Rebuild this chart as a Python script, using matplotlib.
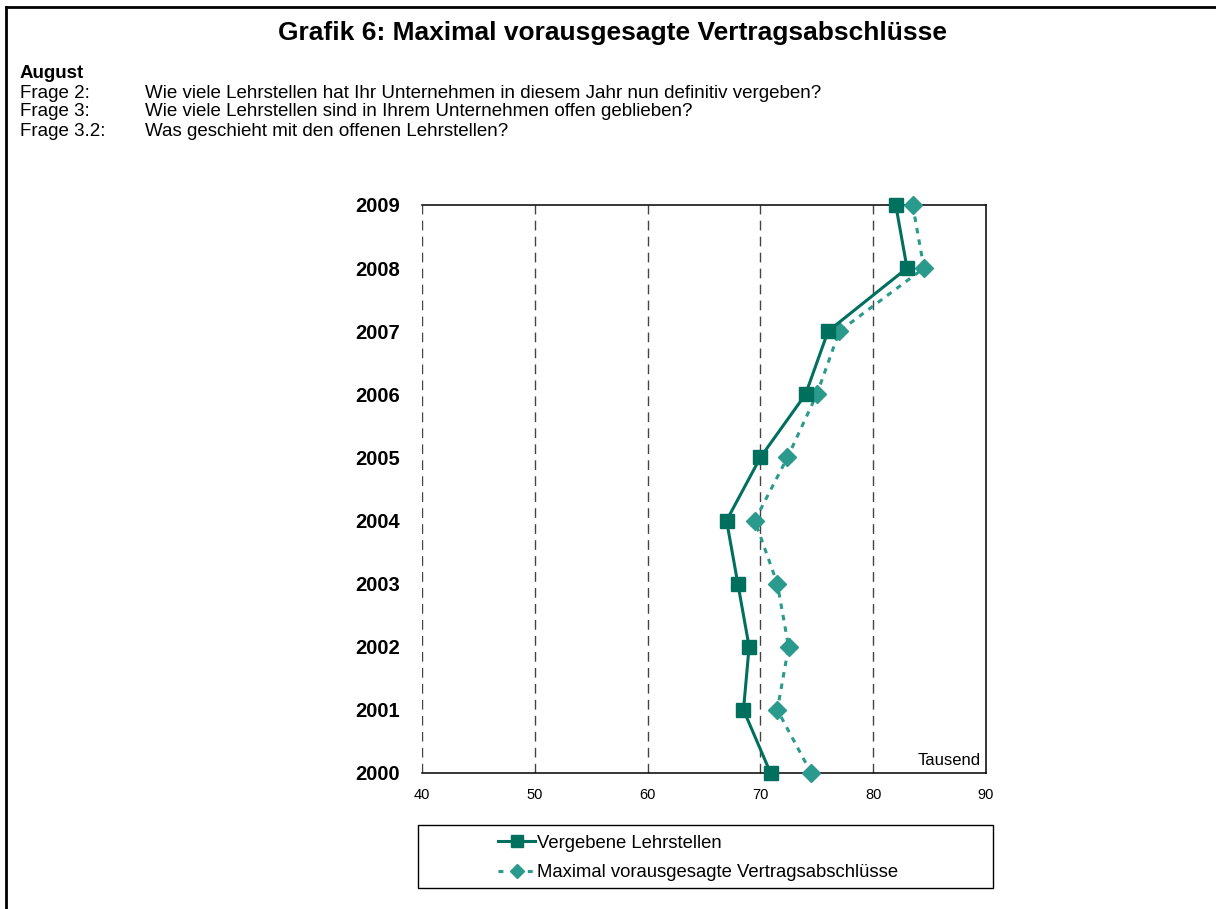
import matplotlib
matplotlib.use('Agg')
import matplotlib.pyplot as plt
from matplotlib.patches import Rectangle
from matplotlib.lines import Line2D

plt.rcParams['font.family'] = ['Liberation Sans', 'DejaVu Sans']

# data (Tausend)
years = [2000, 2001, 2002, 2003, 2004, 2005, 2006, 2007, 2008, 2009]
vergeben = [70.9, 68.5, 69.0, 68.0, 67.0, 70.0, 74.0, 76.0, 83.0, 82.0]
maximal = [74.5, 71.5, 72.5, 71.5, 69.5, 72.4, 75.0, 77.0, 84.5, 83.5]
x_ticks = [40, 50, 60, 70, 80, 90]
labels = ['Vergebene Lehrstellen', 'Maximal vorausgesagte Vertragsabschlüsse']

title = 'Grafik 6: Maximal vorausgesagte Vertragsabschlüsse'
fragen = [('Frage 2:', 'Wie viele Lehrstellen hat Ihr Unternehmen in diesem Jahr nun definitiv vergeben?'),
          ('Frage 3:', 'Wie viele Lehrstellen sind in Ihrem Unternehmen offen geblieben?'),
          ('Frage 3.2:', 'Was geschieht mit den offenen Lehrstellen?')]

dark = '#00705E'
light = '#2A9A8C'

W, H = 1216, 909
fig = plt.figure(figsize=(W / 100, H / 100), dpi=100)


def fx(px):
    return px / W


def fy(py):
    return 1 - py / H


ax = fig.add_axes([fx(422), fy(773), fx(986) - fx(422), fy(205) - fy(773)])

# gridlines
for v in x_ticks[:-1]:
    ax.axvline(v, color='#444444', lw=1, ls=(0, (7, 4.5)), zorder=1)

ax.plot(maximal, years, color=light, lw=2.2, ls=(0, (1.8, 2.0)), marker='D', ms=9,
        clip_on=False, zorder=3, label=labels[1])
ax.plot(vergeben, years, color=dark, lw=2.2, marker='s', ms=9.5,
        clip_on=False, zorder=4, label=labels[0])

ax.set_xlim(40, 90)
ax.set_ylim(2000, 2009)
ax.set_xticks(x_ticks)
ax.set_yticks(years)
ax.set_yticklabels([str(y) for y in years], fontsize=14.5, fontweight='bold')
ax.tick_params(axis='x', length=0, labelsize=10.5, pad=11)
ax.tick_params(axis='y', length=0, pad=16)
ax.spines['left'].set_visible(False)
for s in ['top', 'right', 'bottom']:
    ax.spines[s].set_linewidth(1.1)

ax.text(0.99, 0.008, 'Tausend', transform=ax.transAxes, ha='right', va='bottom', fontsize=12)

# title and header text
fig.text(fx(613), fy(33), title, ha='center', va='center', fontsize=19, fontweight='bold')
fig.text(fx(20), fy(73), 'August', ha='left', va='center', fontsize=13.5, fontweight='bold')
for i, (f, q) in enumerate(fragen):
    yy = fy(93 + i * 19)
    fig.text(fx(20), yy, f, ha='left', va='center', fontsize=13.5)
    fig.text(fx(145), yy, q, ha='left', va='center', fontsize=13.5)

# outer frame (top and left)
fig.add_artist(Line2D([fx(6), 1], [fy(7), fy(7)], color='black', lw=2))
fig.add_artist(Line2D([fx(6), fx(6)], [fy(7), 0], color='black', lw=2))

# legend box
fig.add_artist(Rectangle((fx(418), fy(888)), fx(993) - fx(418), fy(825) - fy(888),
                         fill=False, edgecolor='black', lw=1))
h1 = Line2D([], [], color=dark, lw=2.2, marker='s', ms=8)
h2 = Line2D([], [], color=light, lw=2.2, ls=(0, (1.6, 3.2)), marker='D', ms=7)
fig.legend([h1, h2], labels, loc='center left', bbox_to_anchor=(fx(489), fy(858)),
           frameon=False, fontsize=13.3, handlelength=2.0, handletextpad=0.1,
           labelspacing=0.7, borderpad=0)

fig.savefig('out.png', dpi=100)
